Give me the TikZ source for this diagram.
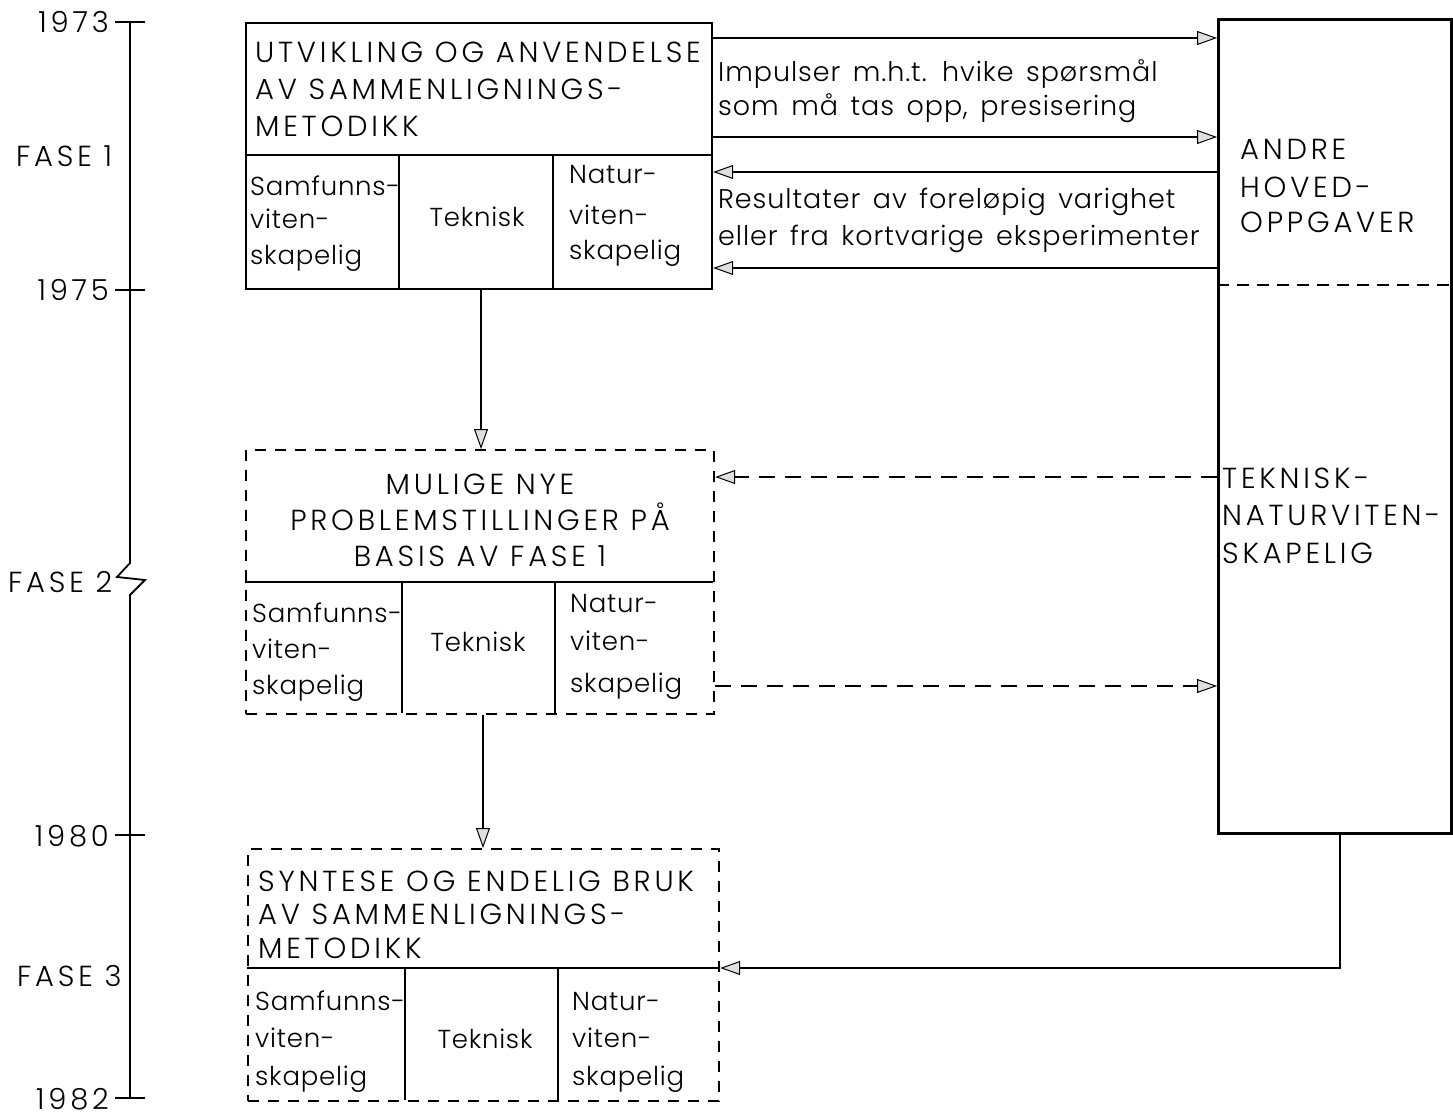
\documentclass[tikz,border=0pt]{standalone}
\usepackage{fontspec}
\IfFontExistsTF{Poppins Light}{\def\myfont{Poppins Light}}{\def\myfont{Poppins}}
\setmainfont{\myfont}
\newfontfamily\capsf{\myfont}[LetterSpace=13]
\newfontfamily\cellf{\myfont}[LetterSpace=3]
\newfontfamily\midf{\myfont}[LetterSpace=3.5,WordSpace=1.5]
\usetikzlibrary{arrows.meta}
\begin{document}
\begin{tikzpicture}[x=1pt,y=-1pt,
  box/.style={draw, line width=2.2pt, inner sep=0pt, anchor=north west},
  dbox/.style={box, dash pattern=on 11pt off 9pt},
  divl/.style={line width=1.8pt},
  capt/.style={anchor=base west, inner sep=0pt, font=\capsf\fontsize{29}{30}\selectfont},
  ccapt/.style={capt, anchor=base},
  ycapt/.style={capt, anchor=base east},
  cell/.style={anchor=base west, inner sep=0pt, font=\cellf\fontsize{26}{30}\selectfont},
  ccell/.style={cell, anchor=base},
  midt/.style={anchor=base west, inner sep=0pt, font=\midf\fontsize{27}{30}\selectfont},
  tl/.style={line width=1.8pt},
  arr/.style={line width=1.5pt, -{Triangle[length=20pt, width=14pt, fill=gray!25, line width=1pt]}},
  darr/.style={arr, dash pattern=on 16pt off 10pt}
]
\useasboundingbox (0,0) rectangle (1453,1118);

% ---- timeline ----
\coordinate (t0) at (130,22);
\coordinate (t1) at (130,563);
\coordinate (t2) at (117,577);
\coordinate (t3) at (145,580);
\coordinate (t4) at (130,595);
\coordinate (t5) at (130,1098);
\draw[tl] (t0) -- (t1) -- (t2) -- (t3) -- (t4) -- (t5);
\foreach \yy in {22,290,835,1098} \draw[tl] (115,\yy) -- (145,\yy);
\node[ycapt] (y73) at (109,33) {1973};
\node[ycapt] (y75) at (109,300) {1975};
\node[ycapt] (y80) at (109,846) {1980};
\node[ycapt] (y82) at (109,1109) {1982};
\node[capt] (f1) at (16,167) {FASE\ 1};
\node[capt] (f2) at (8,592) {FASE\ 2};
\node[capt] (f3) at (17,986) {FASE\ 3};

% ---- box 1 ----
\node[box, minimum width=466pt, minimum height=266pt] (b1) at (245,22) {};
\draw[divl] (245,155) -- (711,155);
\draw[divl] (399,155) -- (399,288);
\draw[divl] (553,155) -- (553,288);
\node[capt] (b1l1) at (255,63) {UTVIKLING OG ANVENDELSE};
\node[capt] (b1l2) at (255,100) {AV SAMMENLIGNINGS-};
\node[capt] (b1l3) at (255,137) {METODIKK};
\node[cell] (b1a1) at (250,196) {Samfunns-};
\node[cell] (b1a2) at (250,228) {viten-};
\node[cell] (b1a3) at (250,264) {skapelig};
\node[ccell] (b1b) at (477,226) {Teknisk};
\node[cell] (b1c1) at (569,184) {Natur-};
\node[cell] (b1c2) at (569,224) {viten-};
\node[cell] (b1c3) at (569,259) {skapelig};

% ---- box 2 ----
\node[dbox, minimum width=468pt, minimum height=264pt] (b2) at (245,449) {};
\draw[divl] (245,582) -- (713,582);
\draw[divl] (402,582) -- (402,713);
\draw[divl] (555,582) -- (555,713);
\node[ccapt] (b2l1) at (480,494) {MULIGE NYE};
\node[ccapt] (b2l2) at (480,530) {PROBLEMSTILLINGER PÅ};
\node[ccapt] (b2l3) at (480,566) {BASIS AV FASE 1};
\node[cell] (b2a1) at (252,622) {Samfunns-};
\node[cell] (b2a2) at (252,658) {viten-};
\node[cell] (b2a3) at (252,694) {skapelig};
\node[ccell] (b2b) at (478,651) {Teknisk};
\node[cell] (b2c1) at (570,612) {Natur-};
\node[cell] (b2c2) at (570,650) {viten-};
\node[cell] (b2c3) at (570,692) {skapelig};

% ---- box 3 ----
\node[dbox, minimum width=471pt, minimum height=252pt] (b3) at (247,848) {};
\draw[divl] (247,968) -- (718,968);
\draw[divl] (405,968) -- (405,1100);
\draw[divl] (558,968) -- (558,1100);
\node[capt] (b3l1) at (258,891) {SYNTESE OG ENDELIG BRUK};
\node[capt] (b3l2) at (258,924) {AV SAMMENLIGNINGS-};
\node[capt] (b3l3) at (258,958) {METODIKK};
\node[cell] (b3a1) at (255,1010) {Samfunns-};
\node[cell] (b3a2) at (255,1047) {viten-};
\node[cell] (b3a3) at (255,1085) {skapelig};
\node[ccell] (b3b) at (485,1048) {Teknisk};
\node[cell] (b3c1) at (572,1010) {Natur-};
\node[cell] (b3c2) at (572,1047) {viten-};
\node[cell] (b3c3) at (572,1085) {skapelig};

% ---- right box ----
\node[box, line width=2.6pt, minimum width=233pt, minimum height=814pt] (rb) at (1217,18) {};
\draw[line width=2pt, dash pattern=on 12pt off 8pt] (rb.west |- 0,285) -- (rb.east |- 0,285);
\node[capt] (r1) at (1240,160) {ANDRE};
\node[capt] (r2) at (1240,197) {HOVED-};
\node[capt] (r3) at (1240,233) {OPPGAVER};
\node[capt] (r4) at (1222,488) {TEKNISK-};
\node[capt] (r5) at (1222,525) {NATURVITEN-};
\node[capt] (r6) at (1222,563) {SKAPELIG};

% ---- texts between ----
\node[midt] (i1) at (718,82) {Impulser m.h.t. hvike spørsmål};
\node[midt] (i2) at (718,116) {som må tas opp, presisering};
\node[midt] (i3) at (718,208) {Resultater av foreløpig varighet};
\node[midt] (i4) at (718,245) {eller fra kortvarige eksperimenter};

% ---- connectors ----
\coordinate (ya) at (0,38);
\coordinate (yb) at (0,137);
\coordinate (yc) at (0,172);
\coordinate (yd) at (0,268);
\coordinate (ye) at (0,477);
\coordinate (yf) at (0,686);
\coordinate (yg) at (0,968);
\coordinate (xa) at (481,0);
\coordinate (xb) at (483,0);
\coordinate (xc) at (1340,0);
\draw[arr] (b1.east |- ya) -- (rb.west |- ya);
\draw[arr] (b1.east |- yb) -- (rb.west |- yb);
\draw[arr] (rb.west |- yc) -- (b1.east |- yc);
\draw[arr] (rb.west |- yd) -- (b1.east |- yd);
\draw[arr] (b1.south -| xa) -- (b2.north -| xa);
\draw[darr] (rb.west |- ye) -- (b2.east |- ye);
\draw[darr] (b2.east |- yf) -- (rb.west |- yf);
\draw[arr] (b2.south -| xb) -- (b3.north -| xb);
\draw[arr] (rb.south -| xc) |- (b3.east |- yg);
\end{tikzpicture}
\end{document}
